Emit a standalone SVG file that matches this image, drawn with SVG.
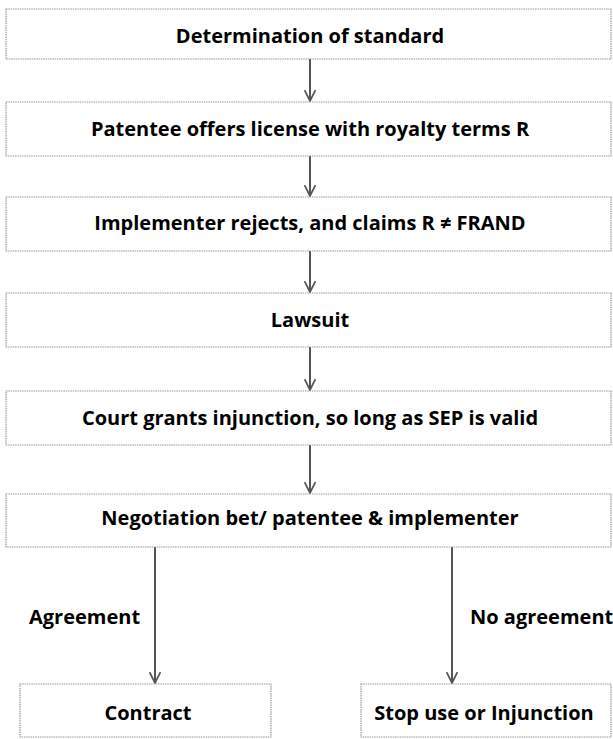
<svg xmlns="http://www.w3.org/2000/svg" width="613" height="739" viewBox="0 0 613 739">
<defs>
<style>
.box{fill:#fff;stroke:#9a9a9a;stroke-width:1.2;stroke-dasharray:1.5 0.8}
.t{font-family:"Open Sans","Noto Sans","Liberation Sans",sans-serif;font-weight:bold;font-size:20px;fill:#000;text-anchor:middle}
.l{font-family:"Open Sans","Noto Sans","Liberation Sans",sans-serif;font-weight:bold;font-size:20px;fill:#000}
.c{stroke:#555;stroke-width:2;fill:none}
</style>
<marker id="ah" viewBox="0 0 12 12" refX="11" refY="6" markerWidth="13" markerHeight="13" markerUnits="userSpaceOnUse" orient="auto">
<path d="M1,1 L11,6 L1,11" fill="none" stroke="#555" stroke-width="1.6"/>
</marker>
</defs>
<rect width="613" height="739" fill="#fff"/>
<g id="connectors">
<line class="c" x1="310" y1="59" x2="310" y2="101" marker-end="url(#ah)"/>
<line class="c" x1="310" y1="156" x2="310" y2="196" marker-end="url(#ah)"/>
<line class="c" x1="310" y1="251" x2="310" y2="292" marker-end="url(#ah)"/>
<line class="c" x1="310" y1="347" x2="310" y2="390" marker-end="url(#ah)"/>
<line class="c" x1="310" y1="445" x2="310" y2="493" marker-end="url(#ah)"/>
<line class="c" x1="155" y1="547" x2="155" y2="683" marker-end="url(#ah)"/>
<line class="c" x1="452" y1="547" x2="452" y2="683" marker-end="url(#ah)"/>
<text class="l" x="29" y="624">Agreement</text>
<text class="l" x="470" y="624">No agreement</text>
</g>
<g id="n1"><rect class="box" x="6" y="9" width="605" height="50"/><text class="t" x="310" y="43">Determination of standard</text></g>
<g id="n2"><rect class="box" x="6" y="102" width="605" height="54"/><text class="t" x="310" y="136">Patentee offers license with royalty terms R</text></g>
<g id="n3"><rect class="box" x="6" y="197" width="605" height="54"/><text class="t" x="310" y="230">Implementer rejects, and claims R ≠ FRAND</text></g>
<g id="n4"><rect class="box" x="6" y="293" width="605" height="54"/><text class="t" x="310" y="327">Lawsuit</text></g>
<g id="n5"><rect class="box" x="6" y="391" width="605" height="54"/><text class="t" x="310" y="425">Court grants injunction, so long as SEP is valid</text></g>
<g id="n6"><rect class="box" x="6" y="494" width="605" height="53"/><text class="t" x="310" y="525">Negotiation bet/ patentee &amp; implementer</text></g>
<g id="n7"><rect class="box" x="20" y="684" width="251" height="53"/><text class="t" x="148" y="720">Contract</text></g>
<g id="n8"><rect class="box" x="361" y="684" width="250" height="53"/><text class="t" x="484" y="720">Stop use or Injunction</text></g>
</svg>
